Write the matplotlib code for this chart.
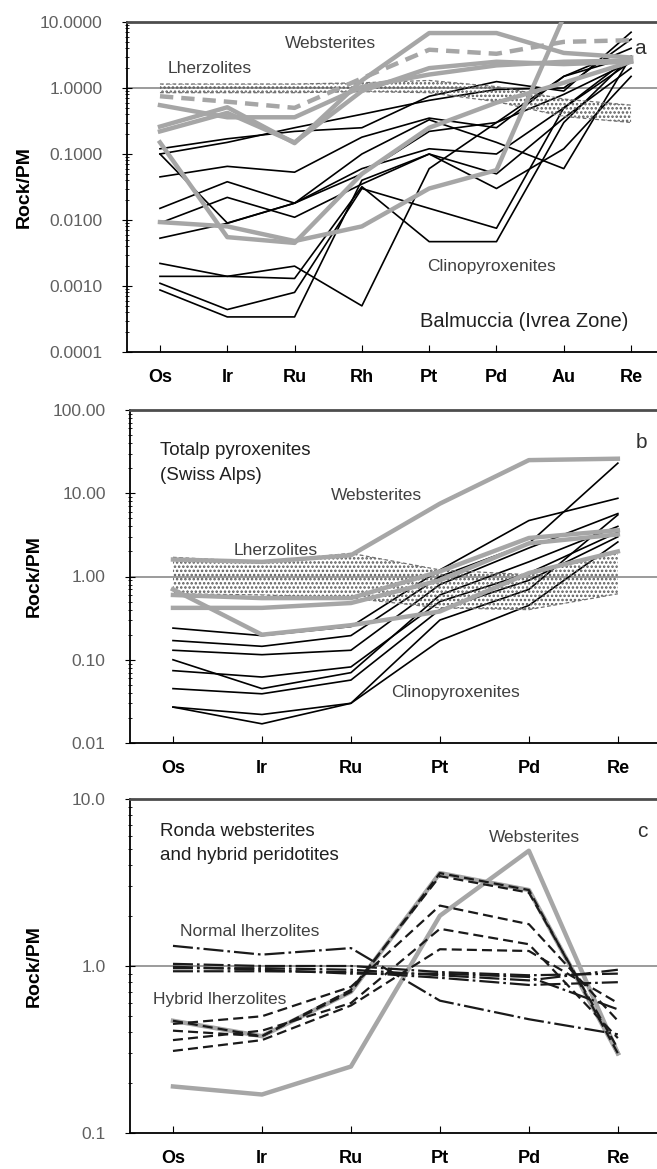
import numpy as np
import matplotlib
matplotlib.use('Agg')
import matplotlib.pyplot as plt
from matplotlib.ticker import LogLocator, NullFormatter

plt.rcParams['font.family'] = ['Liberation Sans', 'DejaVu Sans']
plt.rcParams['hatch.linewidth'] = 1.2

# ---- (a) Balmuccia, Ivrea Zone ----
elems_a = ['Os', 'Ir', 'Ru', 'Rh', 'Pt', 'Pd', 'Au', 'Re']
cpx_a = [
    [0.12, 0.17, 0.22, 0.25, 0.75, 1.25, 0.9, 7.0],
    [0.10, 0.15, 0.25, 0.40, 0.65, 0.95, 1.0, 5.5],
    [0.10, 0.009, 0.018, 0.10, 0.33, 0.15, 0.06, 3.0],
    [0.045, 0.065, 0.053, 0.18, 0.35, 0.25, 1.5, 4.0],
    [0.015, 0.038, 0.018, 0.06, 0.12, 0.10, 0.5, 3.0],
    [0.009, 0.022, 0.011, 0.035, 0.10, 0.05, 0.35, 2.0],
    [0.0053, 0.0089, 0.018, 0.05, 0.22, 0.30, 0.8, 2.5],
    [0.0022, 0.0014, 0.002, 0.0005, 0.06, 0.30, 1.5, 3.0],
    [0.0014, 0.0014, 0.0013, 0.032, 0.0047, 0.0047, 0.30, 3.0],
    [0.0011, 0.00044, 0.0008, 0.03, 0.015, 0.0075, 0.5, 2.5],
    [0.00087, 0.00034, 0.00034, 0.04, 0.10, 0.03, 0.12, 1.5],
]
web_a = [
    [0.26, 0.51, 0.146, 1.3, 6.8, 6.8, 3.4, 2.9],
    [0.22, 0.42, 0.15, 0.9, 2.0, 2.5, 2.3, 2.5],
    [0.55, 0.36, 0.36, 1.04, 1.6, 2.2, 2.5, 2.6],
    [0.15, 0.0055, 0.0045, 0.05, 0.25, 0.6, 1.2, 2.5],
    [0.0093, 0.008, 0.0048, 0.008, 0.03, 0.057, 12.0, 12.0],
]
web_a_dashed = [0.75, 0.62, 0.50, 1.4, 3.8, 3.3, 5.0, 5.3]
lhz_a_top = [1.15, 1.15, 1.15, 1.2, 1.3, 1.05, 0.68, 0.55]
lhz_a_bot = [0.85, 0.85, 0.85, 0.88, 0.85, 0.62, 0.37, 0.30]
yticks_a = [1e-4, 1e-3, 1e-2, 1e-1, 1, 10]
ylabels_a = ['0.0001', '0.0010', '0.0100', '0.1000', '1.0000', '10.0000']

# ---- (b) Totalp, Swiss Alps ----
elems_b = ['Os', 'Ir', 'Ru', 'Pt', 'Pd', 'Re']
cpx_b = [
    [0.24, 0.195, 0.25, 1.2, 4.7, 8.7],
    [0.17, 0.145, 0.195, 1.0, 2.5, 23.0],
    [0.13, 0.115, 0.13, 0.8, 2.2, 5.7],
    [0.10, 0.045, 0.07, 0.6, 1.5, 4.0],
    [0.074, 0.062, 0.082, 0.5, 1.1, 3.4],
    [0.045, 0.039, 0.057, 0.4, 0.9, 3.0],
    [0.027, 0.022, 0.03, 0.3, 0.7, 5.5],
    [0.027, 0.017, 0.03, 0.17, 0.45, 2.6],
]
web_b = [
    [1.6, 1.5, 1.8, 7.5, 25.0, 26.0],
    [0.6, 0.55, 0.55, 1.15, 2.9, 3.6],
    [0.42, 0.42, 0.48, 0.9, 2.5, 3.2],
    [0.7, 0.2, 0.26, 0.38, 1.1, 2.0],
]
lhz_b_top = [1.7, 1.5, 1.9, 1.2, 1.05, 2.0]
lhz_b_bot = [0.62, 0.60, 0.55, 0.42, 0.40, 0.62]
yticks_b = [0.01, 0.1, 1, 10, 100]
ylabels_b = ['0.01', '0.10', '1.00', '10.00', '100.00']

# ---- (c) Ronda ----
elems_c = ['Os', 'Ir', 'Ru', 'Pt', 'Pd', 'Re']
web_c = [
    [0.19, 0.17, 0.25, 2.0, 4.9, 0.30],
    [0.47, 0.38, 0.70, 3.6, 2.85, 0.30],
]
hybrid_c = [
    [0.47, 0.38, 0.70, 3.6, 2.85, 0.30],
    [0.41, 0.38, 0.72, 3.45, 2.75, 0.32],
    [0.45, 0.50, 0.75, 2.3, 1.78, 0.47],
    [0.36, 0.41, 0.60, 1.67, 1.35, 0.37],
    [0.31, 0.36, 0.58, 1.26, 1.23, 0.60],
]
normal_c = [
    [1.32, 1.17, 1.28, 0.62, 0.48, 0.39],
    [1.03, 1.00, 1.00, 0.92, 0.88, 0.90],
    [0.97, 0.97, 0.95, 0.88, 0.82, 0.95],
    [0.93, 0.93, 0.92, 0.85, 0.77, 0.80],
    [0.99, 0.95, 0.90, 0.90, 0.86, 0.55],
]
yticks_c = [0.1, 1, 10]
ylabels_c = ['0.1', '1.0', '10.0']

GREY = '#a6a6a6'
TXT = '#404040'
W, H = 657, 1169

fig = plt.figure(figsize=(W / 100, H / 100), dpi=100)


def box(left, top, bottom):
    return [left / W, 1 - bottom / H, (W - left) / W, (bottom - top) / H]


def setup(ax, names, xlim, ylim, yticks, ylabels, label_x):
    ax.set_yscale('log')
    ax.set_xlim(*xlim)
    ax.set_ylim(*ylim)
    ax.set_xticks(range(len(names)))
    ax.set_xticklabels(names, fontsize=13, fontweight='bold')
    ax.set_yticks(yticks)
    ax.set_yticklabels(ylabels, fontsize=12.5, color='#606060')
    ax.yaxis.set_minor_locator(LogLocator(base=10, subs=np.arange(2, 10)))
    ax.yaxis.set_minor_formatter(NullFormatter())
    ax.tick_params(axis='x', direction='in', length=5, pad=12)
    ax.tick_params(axis='y', which='major', direction='inout', length=7, pad=14)
    ax.tick_params(axis='y', which='minor', direction='inout', length=3)
    ax.spines['right'].set_visible(False)
    ax.spines['top'].set_color('#4d4d4d')
    ax.spines['top'].set_linewidth(2)
    ax.spines['left'].set_linewidth(1.3)
    ax.spines['bottom'].set_linewidth(1.3)
    ax.axhline(1.0, color='#808080', lw=1.1, zorder=1)
    ax.set_ylabel('Rock/PM', fontsize=14, fontweight='bold')
    ax.yaxis.set_label_coords(label_x, 0.5)


def band(ax, top, bot):
    # stippled Lherzolite field
    x = np.arange(len(top))
    ax.fill_between(x, bot, top, facecolor='none', edgecolor='#5a5a5a',
                    hatch='....', linewidth=0, zorder=2.5)
    ax.plot(x, top, color='#707070', lw=0.9, ls=(0, (3, 2)), zorder=2.5)
    ax.plot(x, bot, color='#707070', lw=0.9, ls=(0, (3, 2)), zorder=2.5)


# panel a
ax = fig.add_axes(box(127, 22, 352))
setup(ax, elems_a, (-0.49, 7.385), (1e-4, 10), yticks_a, ylabels_a, -0.177)
x = np.arange(len(elems_a))
for v in cpx_a:
    ax.plot(x, v, color='black', lw=1.2, zorder=2)
band(ax, lhz_a_top, lhz_a_bot)
for v in web_a:
    ax.plot(x, v, color=GREY, lw=3.2, zorder=3)
ax.plot(x, web_a_dashed, color=GREY, lw=3.2, ls=(0, (3, 1.8)), zorder=3)
ax.text(2.53, 4.8, 'Websterites', fontsize=12.5, color=TXT, ha='center', va='center')
ax.text(0.74, 2.0, 'Lherzolites', fontsize=12.5, color=TXT, ha='center', va='center')
ax.text(4.93, 0.00195, 'Clinopyroxenites', fontsize=12.5, color=TXT, ha='center', va='center')
ax.text(5.41, 0.000285, 'Balmuccia (Ivrea Zone)', fontsize=14.5, color='#202020',
        ha='center', va='center')
ax.text(7.13, 4.0, 'a', fontsize=15, color='#303030', ha='center', va='center')

# panel b
ax = fig.add_axes(box(130, 410, 743))
setup(ax, elems_b, (-0.483, 5.44), (0.01, 100), yticks_b, ylabels_b, -0.165)
x = np.arange(len(elems_b))
for v in cpx_b:
    ax.plot(x, v, color='black', lw=1.2, zorder=2)
band(ax, lhz_b_top, lhz_b_bot)
for v in web_b:
    ax.plot(x, v, color=GREY, lw=3.2, zorder=3)
ax.text(-0.15, 33, 'Totalp pyroxenites', fontsize=13.5, color='#202020', ha='left', va='center')
ax.text(-0.15, 16.5, '(Swiss Alps)', fontsize=13.5, color='#202020', ha='left', va='center')
ax.text(2.29, 9.5, 'Websterites', fontsize=12.5, color=TXT, ha='center', va='center')
ax.text(1.16, 2.06, 'Lherzolites', fontsize=12.5, color=TXT, ha='center', va='center')
ax.text(3.18, 0.04, 'Clinopyroxenites', fontsize=12.5, color=TXT, ha='center', va='center')
ax.text(5.27, 41, 'b', fontsize=15, color='#303030', ha='center', va='center')

# panel c
ax = fig.add_axes(box(130, 799, 1133))
setup(ax, elems_c, (-0.483, 5.44), (0.1, 10), yticks_c, ylabels_c, -0.165)
x = np.arange(len(elems_c))
for v in web_c:
    ax.plot(x, v, color=GREY, lw=3.2, zorder=2)
for v in hybrid_c:
    ax.plot(x, v, color='#1a1a1a', lw=1.6, ls=(0, (4.5, 2.3)), zorder=3)
for v in normal_c:
    ax.plot(x, v, color='#1a1a1a', lw=1.6, ls=(0, (9, 1.8, 1.2, 1.8)), zorder=3)
ax.text(-0.15, 6.4, 'Ronda websterites', fontsize=13.5, color='#202020', ha='left', va='center')
ax.text(-0.15, 4.6, 'and hybrid peridotites', fontsize=13.5, color='#202020', ha='left', va='center')
ax.text(4.06, 5.9, 'Websterites', fontsize=12.5, color=TXT, ha='center', va='center')
ax.text(0.865, 1.6, 'Normal lherzolites', fontsize=12.5, color=TXT, ha='center', va='center')
ax.text(0.53, 0.63, 'Hybrid lherzolites', fontsize=12.5, color=TXT, ha='center', va='center')
ax.text(5.27, 6.4, 'c', fontsize=15, color='#303030', ha='center', va='center')

fig.savefig('out.png', dpi=100)
